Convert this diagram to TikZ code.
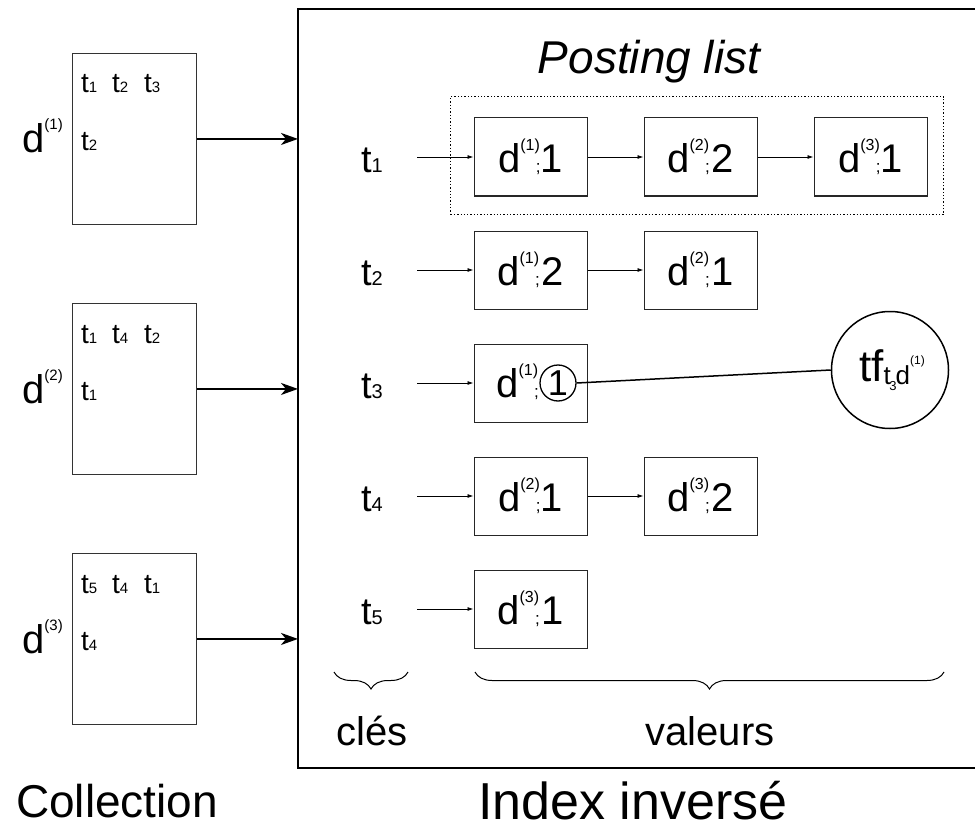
\documentclass[tikz,border=0pt]{standalone}
\usepackage{fontspec}
\setmainfont{Liberation Sans}
\usetikzlibrary{arrows.meta,decorations.pathreplacing,positioning}
\newcommand\fs[1]{\fontsize{#1}{#1}\selectfont}
% key label t_i
\newcommand\keyt[1]{{\fs{38}t}{\fs{20}#1}}
% collection term t_i
\newcommand\colt[1]{{\fs{28}t}{\fs{15}#1}}
% posting entry d^(i);n
\newcommand\dpre[1]{{\fs{40}d}\raisebox{22pt}{\fs{16}(#1)}\kern-4pt{\fs{17};}}
\newcommand\dpost[3]{\dpre{#1}#3{\fs{40}#2}}
\begin{document}
\begin{tikzpicture}[x=1pt,y=-1pt,
  docbox/.style={draw=black!80,line width=0.9pt,minimum width=124pt,minimum height=171pt,inner sep=0pt},
  pbox/.style={draw=black!85,line width=1pt,minimum width=113pt,minimum height=78pt,inner sep=0pt},
  thickarr/.style={line width=2pt,-{Stealth[length=17pt,width=12pt,inset=5pt]}},
  thinarr/.style={line width=0.8pt,-{Latex[length=6pt,width=4pt]}},
  lbl/.style={inner sep=0pt,anchor=base west},
]
\useasboundingbox (0,0) rectangle (975,832);
% Index frame
\draw[line width=2pt] (980,9.5) -| (298,768) -- (980,768);
\coordinate (idxL) at (298,0);
% Collection documents
\foreach \i/\top/\la/\lb/\lc/\ld in {1/53/1/2/3/2, 2/303/1/4/2/1, 3/553/5/4/1/4}{
  \node[docbox,anchor=north west] (doc\i) at (72,\top) {};
  \node[lbl] (dl\i) at (22,\top+100) {{\fs{40}d}\raisebox{23pt}{\fs{15}(\i)}};
  \node[lbl] (ta\i) at (81,\top+40) {\colt{\la}};
  \node[lbl] (tb\i) at (112,\top+40) {\colt{\lb}};
  \node[lbl] (tc\i) at (144,\top+40) {\colt{\lc}};
  \node[lbl] (td\i) at (81,\top+97) {\colt{\ld}};
  \draw[thickarr] (doc\i.east) -- (doc\i.east -| idxL);
}
% Posting list frame
\node[draw,dotted,line width=1.3pt,minimum width=493pt,minimum height=118pt,anchor=north west] (plist) at (450,96) {};
\node[inner sep=0pt] (pltitle) at (649,62) {\fs{46}\itshape Posting list};
% keys
\foreach \r/\y in {1/157,2/270,3/383,4/496,5/609}{
  \node[inner sep=0pt] (k\r) at (372,\y+3) {\keyt{\r}};
  \coordinate (ka\r) at (417,\y);
}
% posting boxes
\node[pbox] (p11) at (530.5,157) {\dpost{1}{1}{}};
\node[pbox] (p12) at (700.5,157) {\dpost{2}{2}{\,}};
\node[pbox] (p13) at (870.5,157) {\dpost{3}{1}{}};
\node[pbox] (p21) at (530.5,270) {\dpost{1}{2}{\,}};
\node[pbox] (p22) at (700.5,270) {\dpost{2}{1}{\,}};
\node[pbox] (p31) at (530.5,383) {};
\node[inner sep=0pt,anchor=base east] (p31t) at (539,397) {\dpre{1}};
\node[circle,draw,line width=1.3pt,inner sep=0pt,minimum size=36pt] (c1) at (558,383) {\fs{36}1};
\node[pbox] (p41) at (530.5,496) {\dpost{2}{1}{}};
\node[pbox] (p42) at (700.5,496) {\dpost{3}{2}{\,}};
\node[pbox] (p51) at (530.5,609) {\dpost{3}{1}{\,}};
% arrows
\foreach \r/\c in {1/p11,2/p21,3/p31,4/p41,5/p51}{
  \draw[thinarr] (ka\r) -- (\c.west);
}
\draw[thinarr] (p11) -- (p12);
\draw[thinarr] (p12) -- (p13);
\draw[thinarr] (p21) -- (p22);
\draw[thinarr] (p41) -- (p42);
% tf circle
\node[circle,draw,line width=1.5pt,minimum size=117pt,inner sep=0pt] (tf) at (890,370)
  {\kern4pt{\fs{44}tf}\raisebox{-3pt}{\fs{26}t}\kern-1.5pt\raisebox{-9pt}{\fs{13}3}\kern-1pt\raisebox{-3pt}{\fs{26}d}\raisebox{17pt}{\fs{12}(1)}};
\draw[line width=1.5pt] (c1.east) -- (tf.west);
% braces
\draw[line width=1pt,decorate,decoration={brace,mirror,amplitude=17pt}] (334,672) -- (408,672);
\draw[line width=1pt,decorate,decoration={brace,mirror,amplitude=17pt}] (475,672) -- (944,672);
\node[inner sep=0pt] (cles) at (372,731) {\fs{40}clés};
\node[inner sep=0pt] (valeurs) at (710,731) {\fs{40}valeurs};
% titles
\node[inner sep=0pt] (coll) at (117,801) {\fs{46}Collection};
\node[inner sep=0pt] (idx) at (633,801) {\fs{52}Index inversé};
\end{tikzpicture}
\end{document}
